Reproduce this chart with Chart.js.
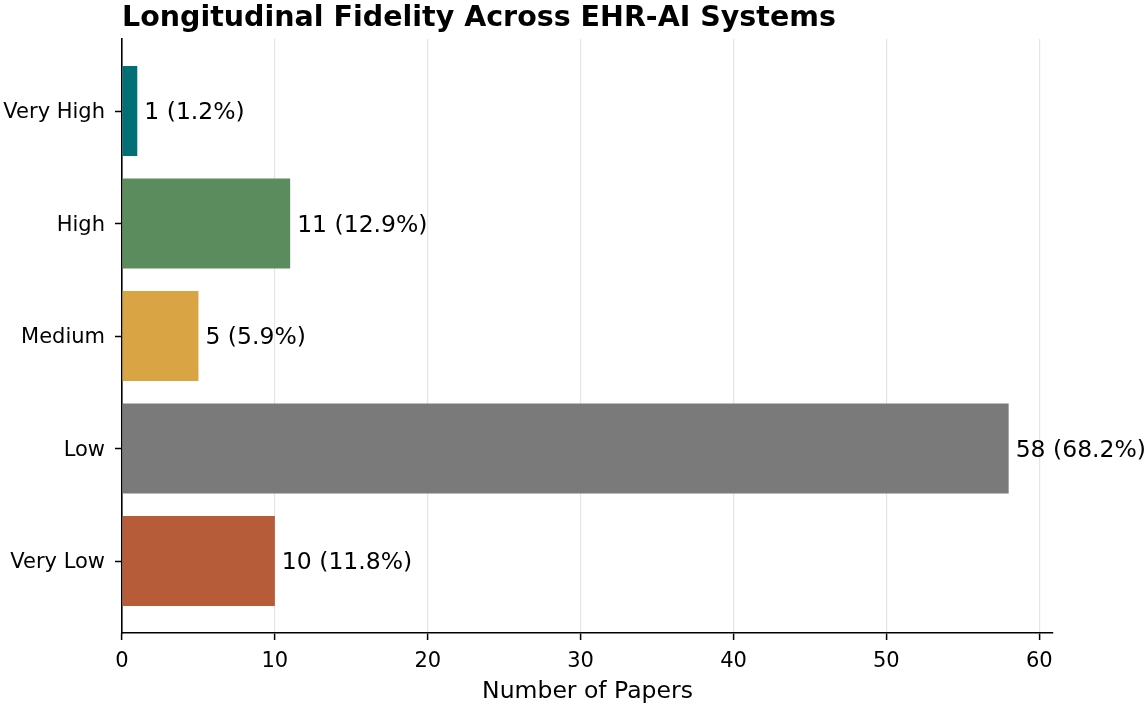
<!DOCTYPE html>
<html>
<head>
<meta charset="utf-8">
<script src="https://cdn.jsdelivr.net/npm/chart.js@4"></script>
<style>
html,body{margin:0;padding:0;background:#fff;}
#wrap{width:1146px;height:704px;position:relative;}
</style>
</head>
<body>
<div id="wrap"><canvas id="c" width="1146" height="704"></canvas></div>
<script>
const categories = ["Very High", "High", "Medium", "Low", "Very Low"];
const counts = [1, 11, 5, 58, 10];
const barColors = ["#006f76", "#5b8c5e", "#d9a444", "#7a7a7a", "#b75c38"];
const xTicks = [0, 10, 20, 30, 40, 50, 60];
const titleText = "Longitudinal Fidelity Across EHR-AI Systems";
const xTitle = "Number of Papers";

const total = counts.reduce((a, b) => a + b, 0);
const FONT = "'DejaVu Sans', sans-serif";

const overlay = {
  id: 'overlay',
  afterDatasetsDraw(chart) {
    const ctx = chart.ctx;
    const xs = chart.scales.x, ys = chart.scales.y;
    ctx.save();
    ctx.fillStyle = '#000';
    ctx.font = "23.5px " + FONT;
    ctx.textAlign = 'left';
    ctx.textBaseline = 'middle';
    counts.forEach((v, i) => {
      const pct = (v / total * 100).toFixed(1);
      ctx.fillText(v + " (" + pct + "%)", xs.getPixelForValue(v) + 7, ys.getPixelForValue(i) + 2);
    });
    ctx.restore();
  },
  afterDraw(chart) {
    const ctx = chart.ctx;
    ctx.save();
    ctx.fillStyle = '#000';
    ctx.font = "bold 28.5px " + FONT;
    ctx.textAlign = 'left';
    ctx.textBaseline = 'alphabetic';
    ctx.fillText(titleText, chart.chartArea.left, 26);
    ctx.restore();
  }
};

new Chart(document.getElementById('c'), {
  type: 'bar',
  data: {
    datasets: [{
      data: counts.map((v, i) => ({ x: v, y: i })),
      backgroundColor: barColors,
      borderWidth: 0,
      categoryPercentage: 0.8,
      barPercentage: 1.0
    }]
  },
  options: {
    indexAxis: 'y',
    responsive: false,
    animation: false,
    devicePixelRatio: 1,
    layout: { padding: { top: 39, right: 93, left: 0, bottom: 0 } },
    plugins: { legend: { display: false }, tooltip: { enabled: false }, title: { display: false } },
    scales: {
      x: {
        type: 'linear',
        min: 0,
        max: 60.9,
        z: 1,
        afterBuildTicks(scale) { scale.ticks = xTicks.map(v => ({ value: v })); },
        afterFit(scale) { scale.height = 71; },
        ticks: { color: '#000', font: { family: FONT, size: 21 }, padding: 9, maxRotation: 0 },
        grid: { color: 'rgba(170,170,170,0.3)', lineWidth: 1.2, tickColor: '#000', tickLength: 7, tickWidth: 1.5 },
        border: { color: '#000', width: 1.6 },
        title: { display: true, text: xTitle, color: '#000', font: { family: FONT, size: 23.5, lineHeight: 1.0 }, padding: { top: 0, bottom: 0 } }
      },
      y: {
        type: 'linear',
        reverse: true,
        offset: false,
        min: -0.64,
        max: 4.64,
        afterBuildTicks(scale) { scale.ticks = categories.map((c, i) => ({ value: i })); },
        afterFit(scale) { scale.width = 122; },
        ticks: {
          color: '#000', font: { family: FONT, size: 21 }, padding: 10, labelOffset: 2,
          callback: (v) => categories[v]
        },
        grid: { offset: false, drawOnChartArea: false, color: '#000', tickLength: 7, tickWidth: 1.5 },
        border: { color: '#000', width: 1.6 }
      }
    }
  },
  plugins: [overlay]
});
</script>
</body>
</html>
